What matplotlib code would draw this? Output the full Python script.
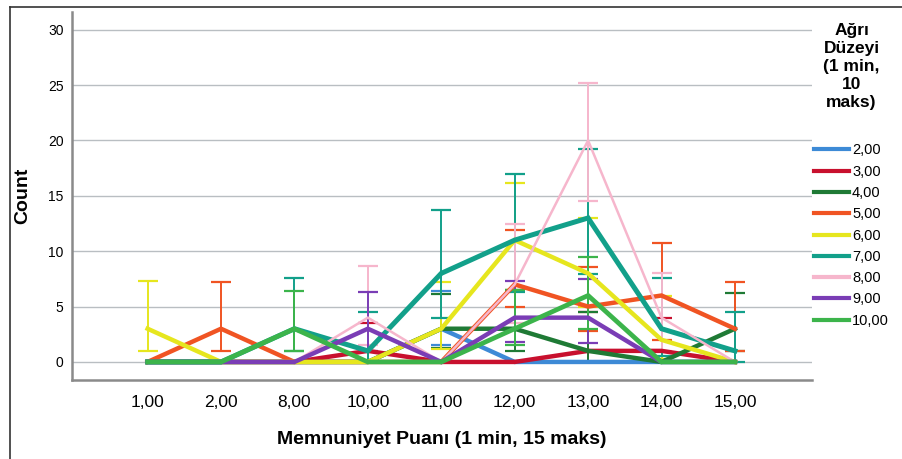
import numpy as np
import matplotlib
matplotlib.use("Agg")
import matplotlib.pyplot as plt
from matplotlib.lines import Line2D

nan = np.nan

categories = ["1,00", "2,00", "8,00", "10,00", "11,00", "12,00", "13,00", "14,00", "15,00"]
series_labels = ["2,00", "3,00", "4,00", "5,00", "6,00", "7,00", "8,00", "9,00", "10,00"]

counts_2 = [0, 0, 0, 0, 3, 0, 0, 0, 0]
counts_3 = [0, 0, 0, 1, 0, 0, 1, 1, 0]
counts_4 = [0, 0, 0, 0, 3, 3, 1, 0, 3]
counts_5 = [0, 3, 0, 0, 0, 7, 5, 6, 3]
counts_6 = [3, 0, 0, 0, 3, 11, 8, 2, 0]
counts_7 = [0, 0, 3, 1, 8, 11, 13, 3, 1]
counts_8 = [0, 0, 0, 4, 0, 7, 20, 4, 0]
counts_9 = [0, 0, 0, 3, 0, 4, 4, 0, 0]
counts_10 = [0, 0, 3, 0, 0, 3, 6, 0, 0]

low_2 = [nan, nan, nan, nan, 1.5, nan, nan, nan, nan]
high_2 = [nan, nan, nan, nan, 6.4, nan, nan, nan, nan]
low_3 = [nan, nan, nan, 0.0, nan, nan, 0.0, 0.0, nan]
high_3 = [nan, nan, nan, 3.5, nan, nan, 4.5, 4.0, nan]
low_4 = [nan, nan, nan, nan, 1.3, 1.0, 0.0, nan, 1.0]
high_4 = [nan, nan, nan, nan, 6.1, 6.5, 4.5, nan, 6.2]
low_5 = [nan, 1.0, nan, nan, nan, 5.0, 2.8, 2.0, 1.0]
high_5 = [nan, 7.2, nan, nan, nan, 11.9, 8.6, 10.7, 7.2]
low_6 = [1.0, nan, nan, nan, 1.2, 6.5, 5.0, 0.3, nan]
high_6 = [7.3, nan, nan, nan, 7.2, 16.2, 13.0, 6.0, nan]
low_7 = [nan, nan, 1.0, 0.0, 4.0, 6.3, 7.9, 0.5, 0.0]
high_7 = [nan, nan, 7.6, 4.5, 13.7, 17.0, 19.2, 7.6, 4.5]
low_8 = [nan, nan, nan, 1.5, nan, 3.5, 14.5, 1.0, nan]
high_8 = [nan, nan, nan, 8.7, nan, 12.5, 25.2, 8.0, nan]
low_9 = [nan, nan, nan, 1.0, nan, 1.8, 1.7, nan, nan]
high_9 = [nan, nan, nan, 6.3, nan, 7.3, 7.5, nan, nan]
low_10 = [nan, nan, 1.0, nan, nan, 1.5, 3.0, nan, nan]
high_10 = [nan, nan, 6.4, nan, nan, 6.5, 9.5, nan, nan]

counts = [counts_2, counts_3, counts_4, counts_5, counts_6, counts_7, counts_8, counts_9, counts_10]
lows = [low_2, low_3, low_4, low_5, low_6, low_7, low_8, low_9, low_10]
highs = [high_2, high_3, high_4, high_5, high_6, high_7, high_8, high_9, high_10]
colors = ["#3d8ad6", "#c8102e", "#1f7a35", "#f05423", "#e6e61e", "#12a08a", "#f6b6cc", "#7a3db5", "#3cb44b"]
widths = [3.2, 3.2, 3.2, 3.2, 3.2, 3.6, 1.8, 3.2, 3.4]

sans = ["Liberation Sans", "DejaVu Sans"]

fig = plt.figure(figsize=(9.02, 4.59), dpi=100)
ax = fig.add_axes([72 / 902, 1 - 380 / 459, (812 - 72) / 902, (380 - 12) / 459])

x = np.arange(len(categories))
for c, lo, hi, col, lw in zip(counts, lows, highs, colors, widths):
    c = np.array(c, float)
    lo = np.array(lo, float)
    hi = np.array(hi, float)
    ax.errorbar(x, c, yerr=[c - lo, hi - c], fmt="none", ecolor=col,
                elinewidth=1.4, capsize=7, capthick=1.6, zorder=2)
for c, col, lw in zip(counts, colors, widths):
    ax.plot(x, c, color=col, lw=lw, solid_joinstyle="miter", zorder=3)

ax.set_xlim(-1.03, 9.05)
ax.set_ylim(-1.63, 31.6)
ax.set_yticks([0, 5, 10, 15, 20, 25, 30])
ax.set_yticklabels(["0", "5", "10", "15", "20", "25", "30"], family=sans, fontsize=10)
ax.set_xticks(x)
ax.set_xticklabels(categories, family=sans, fontsize=12.5)
ax.tick_params(axis="both", length=0)
ax.tick_params(axis="x", pad=11)
ax.tick_params(axis="y", pad=6)
ax.yaxis.grid(True, color="#b9bec2", lw=1.0)
ax.set_axisbelow(True)
for s in ["top", "right"]:
    ax.spines[s].set_visible(False)
for s in ["left", "bottom"]:
    ax.spines[s].set_color("#8a8a8a")
    ax.spines[s].set_linewidth(1.8)

ax.set_xlabel("Memnuniyet Puanı (1 min, 15 maks)", family=sans, fontsize=14,
              fontweight="bold", labelpad=15)
ax.set_ylabel("Count", family=sans, fontsize=14, fontweight="bold", labelpad=12)

handles = [Line2D([0], [0], color=col, lw=3) for col in colors]
leg = fig.legend(handles, series_labels, loc="upper left", bbox_to_anchor=(801 / 902, 1 - 10 / 459),
                 frameon=False, prop={"family": sans, "size": 10.5}, handlelength=2.4,
                 handletextpad=0.2, labelspacing=0.5, alignment="center",
                 title="Ağrı\nDüzeyi\n(1 min,\n10\nmaks)",
                 title_fontproperties={"family": sans, "size": 12.5, "weight": "bold"})
leg.get_title().set_multialignment("center")
leg.get_title().set_linespacing(1.25)
leg._legend_box.sep = 24

fig.add_artist(Line2D([10 / 902, 1], [1 - 7 / 459, 1 - 7 / 459], transform=fig.transFigure, color="#333333", lw=1.2))
fig.add_artist(Line2D([10 / 902, 10 / 902], [0, 1 - 7 / 459], transform=fig.transFigure, color="#333333", lw=1.2))

fig.savefig("out.png", dpi=100)
